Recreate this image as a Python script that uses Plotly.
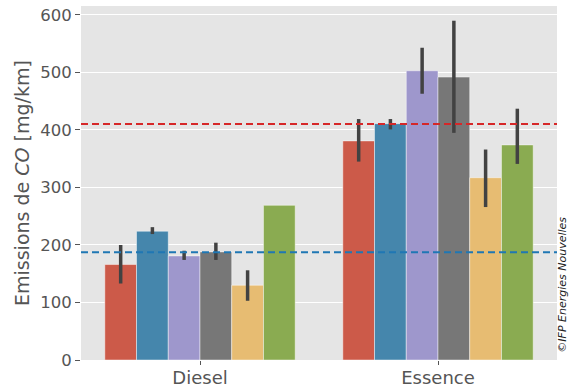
import plotly.graph_objects as go

categories = ["Diesel", "Essence"]
series_names = ["S1", "S2", "S3", "S4", "S5", "S6"]
colors = ["#CC5A49", "#4586AC", "#9E97CC", "#777777", "#E7BC72", "#8AAB51"]

# bar heights per series: [Diesel, Essence]
values = [
    [166, 381],
    [224, 411],
    [181, 503],
    [188, 492],
    [130, 317],
    [269, 374],
]
# error bar upper / lower ends
err_high = [
    [200, 419],
    [231, 419],
    [190, 543],
    [204, 590],
    [156, 366],
    [None, 437],
]
err_low = [
    [133, 345],
    [219, 401],
    [174, 463],
    [174, 395],
    [103, 266],
    [None, 341],
]
ref_diesel = 187.5
ref_essence = 410.5
yticks = [0, 100, 200, 300, 400, 500, 600]

fig = go.Figure()
for i, name in enumerate(series_names):
    plus = [None if h is None else h - v for h, v in zip(err_high[i], values[i])]
    minus = [None if l is None else v - l for l, v in zip(err_low[i], values[i])]
    fig.add_trace(go.Bar(
        x=categories, y=values[i], name=name,
        marker=dict(color=colors[i], line=dict(color="rgba(255,255,255,0.45)", width=1)),
        error_y=dict(type="data", symmetric=False, array=plus, arrayminus=minus,
                     color="#424242", thickness=3.5, width=0),
        showlegend=False,
    ))

fig.add_shape(type="line", xref="paper", yref="y", x0=0, x1=1, y0=ref_essence, y1=ref_essence,
              line=dict(color="#D62728", width=2, dash="7px,4px"), layer="above")
fig.add_shape(type="line", xref="paper", yref="y", x0=0, x1=1, y0=ref_diesel, y1=ref_diesel,
              line=dict(color="#1F77B4", width=2, dash="7px,4px"), layer="above")

fig.add_annotation(text="Emissions de <i>CO</i> [mg/km]", xref="paper", yref="paper",
                   x=-0.124, y=0.5, xanchor="center", yanchor="middle", textangle=-90,
                   showarrow=False, font=dict(family="DejaVu Sans", size=19, color="#555555"))
fig.add_annotation(text="<i>©IFP Energies Nouvelles</i>", xref="paper", yref="paper",
                   x=1.012, y=0.212, xanchor="center", yanchor="middle", textangle=-90,
                   showarrow=False, font=dict(family="DejaVu Sans", size=11, color="#222222"))

fig.update_layout(
    width=571, height=391,
    margin=dict(l=81, r=14, t=6, b=31),
    barmode="group", bargap=0.2, bargroupgap=0,
    plot_bgcolor="#E5E5E5", paper_bgcolor="white",
    font=dict(family="DejaVu Sans", color="#555555"),
)
fig.update_xaxes(range=[-0.5, 1.5], showgrid=False, ticks="outside", ticklen=4,
                 tickcolor="#555555", tickfont=dict(size=18, color="#555555"), zeroline=False,
                 automargin=False, ticklabelstandoff=-3)
fig.update_yaxes(range=[0, 615.6], tickvals=yticks, showgrid=True, gridcolor="white", gridwidth=1.2,
                 ticks="outside", ticklen=5, tickcolor="#555555",
                 tickfont=dict(size=16.5, color="#555555"), zeroline=False, automargin=False)

fig.write_html("out.html", config={"displayModeBar": False},
               post_script="document.body.style.margin='0';")
